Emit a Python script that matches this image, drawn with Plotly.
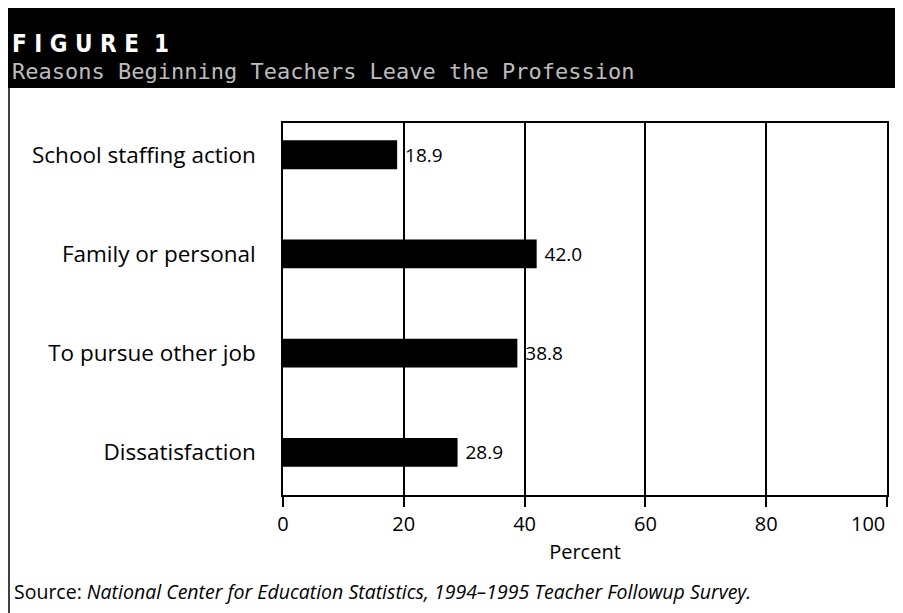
import plotly.graph_objects as go

categories = ["School staffing action", "Family or personal", "To pursue other job", "Dissatisfaction"]
values = [18.9, 42.0, 38.8, 28.9]
value_labels = ["18.9", "42.0", "38.8", "28.9"]
x_ticks = [0, 20, 40, 60, 80, 100]
x_tick_text = ["0", "20", "40", "60", "80", "100"]

OFF = 8  # page body margin in the browser
W, H = 903 - OFF, 613 - OFF
L, R, T, B = 283 - OFF, 16, 123 - OFF, 118
pw, ph = W - L - R, H - T - B

def px(x):
    return (x - OFF - L) / pw

def py(y):
    return (H - B - (y - OFF)) / ph

FONT = "Open Sans, Liberation Sans, sans-serif"

fig = go.Figure(go.Bar(
    x=values, y=categories, orientation="h",
    marker=dict(color="black", line=dict(width=0)),
    text=value_labels, texttemplate=" %{text}", textposition="outside",
    textfont=dict(family=FONT, size=19, color="black"),
    cliponaxis=False, width=0.29,
))

# last tick label is drawn right-aligned at its tick so it stays inside the page
shown_text = x_tick_text[:-1] + [""]

fig.update_layout(
    width=W, height=H,
    margin=dict(l=L, r=R, t=T, b=B, autoexpand=False),
    paper_bgcolor="white", plot_bgcolor="white",
    showlegend=False,
    font=dict(family=FONT, color="black"),
    xaxis=dict(
        range=[0, 100], tickvals=x_ticks, ticktext=shown_text,
        showgrid=True, gridcolor="black", gridwidth=1.5,
        showline=True, linecolor="black", linewidth=1.5, mirror=True,
        ticks="outside", ticklen=10, tickwidth=1.5, tickcolor="black",
        tickfont=dict(size=20), zeroline=False,
        title=dict(text="Percent", font=dict(size=20), standoff=9),
    ),
    yaxis=dict(
        type="category", categoryorder="array", categoryarray=categories,
        range=[3.43, -0.32],
        showline=True, linecolor="black", linewidth=1.5, mirror=True,
        ticks="", tickfont=dict(size=22.5), ticklabelstandoff=21,
        showgrid=False, zeroline=False,
    ),
    shapes=[
        dict(type="rect", xref="paper", yref="paper", x0=px(4), x1=px(910), y0=py(88), y1=py(0),
             fillcolor="black", line=dict(width=0), layer="below"),
        dict(type="line", xref="paper", yref="paper", x0=px(9), x1=px(9), y0=py(620), y1=py(88),
             line=dict(color="black", width=1.5)),
    ],
    annotations=[
        dict(text=x_tick_text[-1], xref="x", yref="paper", x=x_ticks[-1], y=py(523),
             xanchor="right", yanchor="middle", showarrow=False,
             font=dict(family=FONT, size=20, color="black")),
        dict(text="<b>F I G U R E  1</b>", xref="paper", yref="paper", x=px(10), y=py(44),
             xanchor="left", yanchor="middle", showarrow=False,
             font=dict(family="DejaVu Sans Condensed, DejaVu Sans, sans-serif", size=24, color="white")),
        dict(text="Reasons Beginning Teachers Leave the Profession", xref="paper", yref="paper",
             x=px(10), y=py(72), xanchor="left", yanchor="middle", showarrow=False,
             font=dict(family="DejaVu Sans Mono, monospace", size=22, color="#bdbdbd")),
        dict(text="Source: <i>National Center for Education Statistics, 1994–1995 Teacher Followup Survey.</i>",
             xref="paper", yref="paper", x=px(12), y=py(591), xanchor="left", yanchor="middle",
             showarrow=False, font=dict(family=FONT, size=19.5, color="black")),
    ],
)

fig.write_html("out.html")
